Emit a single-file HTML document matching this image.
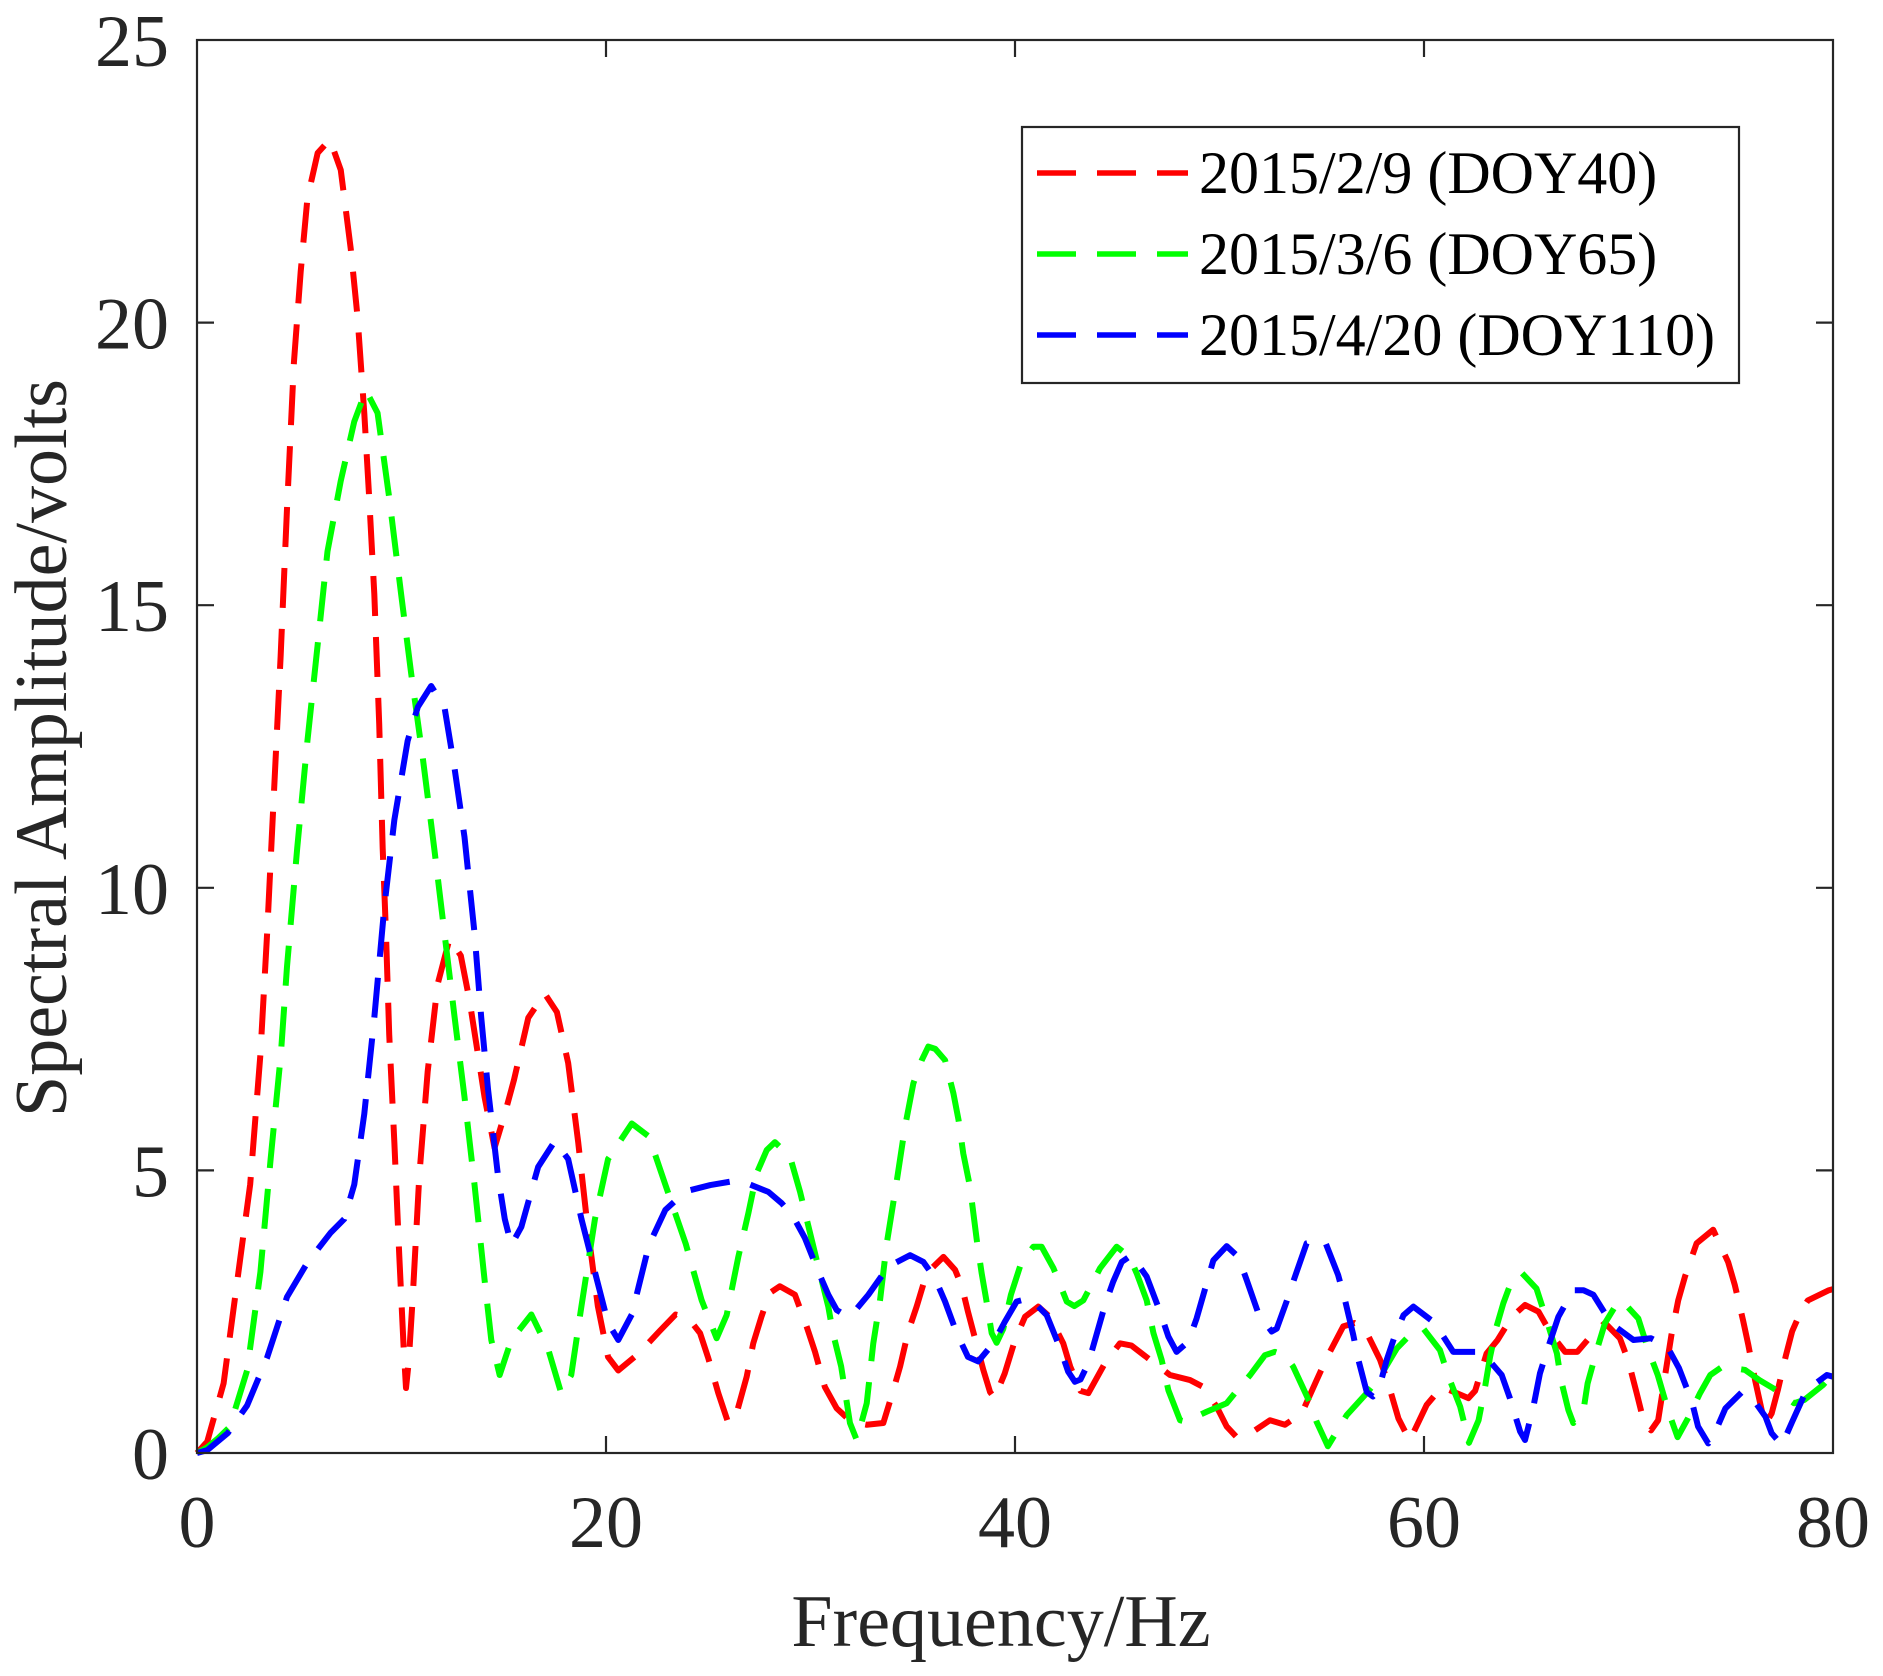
<!DOCTYPE html>
<html>
<head>
<meta charset="utf-8">
<style>
html,body{margin:0;padding:0;background:#fff;}
svg{display:block;}
text{font-family:"Liberation Serif","Times New Roman",serif;}
</style>
</head>
<body>
<svg width="1883" height="1676" viewBox="0 0 1883 1676" xmlns="http://www.w3.org/2000/svg">
<rect x="0" y="0" width="1883" height="1676" fill="#fff"/>

<g transform="translate(197,1453) scale(20.45,-56.52)" fill="none" stroke-width="6" stroke-dasharray="40 21" stroke-linejoin="round">
<polyline vector-effect="non-scaling-stroke" stroke="#ff0000" points="0,0 0.5,0.2 1.3,1.23 2.1,3.4 2.6,4.75 3.1,7.05 3.43,9.2 3.76,11.66 4.09,14.1 4.4,16.7 4.74,19.3 5.07,20.9 5.4,22.2 5.9,23.0 6.5,23.24 7.03,22.7 7.52,21.3 7.85,20.1 8.18,18.4 8.42,16.9 8.67,15.2 8.91,12.9 9.08,10.7 9.24,9.2 9.4,7.4 9.65,5.5 9.89,3.5 10.1,1.9 10.22,1.15 10.35,1.6 10.55,2.76 10.87,4.9 11.28,6.75 11.77,8.3 12.35,9.1 12.9,8.8 13.33,8.0 13.74,7.05 14.06,6.3 14.55,5.4 15.05,6.0 15.5,6.6 16.2,7.7 17.0,8.13 17.6,7.8 18.15,6.9 18.64,5.5 19.1,4.0 19.6,2.6 20.1,1.7 20.6,1.46 21.6,1.76 22.6,2.15 23.4,2.45 24.0,2.4 24.6,2.12 25.0,1.68 25.49,1.06 25.98,0.53 26.39,0.71 26.88,1.35 27.2,1.94 27.6,2.41 28.0,2.83 28.5,2.95 29.24,2.8 29.81,2.24 30.22,1.79 30.7,1.17 31.28,0.79 32.0,0.55 32.75,0.5 33.56,0.53 34.05,1.11 34.38,1.53 34.78,2.15 35.19,2.59 35.68,3.18 36.5,3.47 37.07,3.24 37.4,2.95 37.7,2.5 38.13,1.91 38.45,1.47 38.78,1.08 39.0,0.97 39.5,1.41 40.0,2.0 40.49,2.41 41.14,2.59 41.7,2.41 42.36,1.94 42.7,1.53 43.2,1.1 43.59,1.06 44.4,1.59 45.13,1.94 45.7,1.9 46.6,1.65 47.58,1.38 48.56,1.29 49.2,1.17 49.86,0.82 50.35,0.47 50.84,0.28 51.65,0.38 52.47,0.58 53.2,0.5 54.02,0.7 54.75,1.29 55.24,1.68 56.05,2.24 56.6,2.3 57.1,2.2 57.85,1.65 58.25,1.23 58.75,0.61 59.3,0.22 60.13,0.85 60.87,1.17 61.6,1.06 62.17,0.97 62.5,1.1 63.06,1.76 63.6,2.0 64.3,2.41 64.94,2.62 65.6,2.5 66.24,2.09 66.9,1.79 67.5,1.79 68.28,2.12 68.85,2.3 69.58,2.03 70.0,1.62 70.4,1.06 70.73,0.58 71.1,0.4 71.45,0.58 71.78,1.35 72.1,2.09 72.43,2.7 72.76,3.12 73.33,3.71 74.14,3.95 74.87,3.38 75.2,2.97 75.6,2.35 75.86,1.91 76.19,1.29 76.67,0.5 77.0,0.7 77.3,1.11 77.7,1.73 78.0,2.15 78.46,2.53 78.77,2.7 79.8,2.88 80,2.9"/>
<polyline vector-effect="non-scaling-stroke" stroke="#00ff00" points="0,0 0.5,0.1 1.0,0.25 1.6,0.46 2.45,1.46 3.1,3.2 3.6,5.2 4.1,7.05 4.4,8.6 4.9,10.7 5.4,12.6 5.9,14.3 6.38,15.95 7.03,17.2 7.69,18.25 8.26,18.8 8.83,18.4 9.4,16.9 9.98,15.2 10.47,13.8 11.04,12.3 11.6,10.7 12.1,9.2 12.6,7.7 13.08,6.3 13.57,4.75 14.06,3.07 14.39,2.0 14.8,1.38 15.37,2.0 16.35,2.45 17.17,1.84 17.8,1.07 18.3,1.38 18.8,2.6 19.46,4.14 20.1,5.2 21.26,5.83 22.1,5.6 22.9,4.75 23.9,3.7 24.68,2.7 25.41,2.03 25.9,2.44 26.47,3.47 26.96,4.24 27.37,4.95 27.86,5.36 28.26,5.5 29.0,5.24 29.49,4.62 29.98,3.89 30.46,3.18 30.87,2.59 31.1,2.12 31.5,1.53 31.93,0.53 32.26,0.23 32.75,0.88 33.07,1.94 33.4,2.7 33.73,3.71 34.2,4.77 34.62,5.77 35.03,6.54 35.44,6.95 35.76,7.19 36.1,7.15 36.58,6.95 36.99,6.36 37.24,5.89 37.47,5.3 37.8,4.71 38.13,3.77 38.37,3.18 38.6,2.7 38.86,2.12 39.1,1.95 39.43,2.2 39.8,2.8 40.3,3.36 40.9,3.65 41.3,3.65 41.88,3.27 42.53,2.68 42.9,2.6 43.34,2.7 44.16,3.27 44.97,3.65 45.6,3.47 45.95,3.18 46.44,2.7 46.77,2.12 47.17,1.65 47.5,1.11 48.07,0.58 48.4,0.55 48.72,0.62 49.37,0.73 50.35,0.88 51.0,1.17 51.5,1.38 52.22,1.73 52.71,1.79 53.2,1.73 53.6,1.53 54.1,1.14 54.43,0.88 54.75,0.55 55.3,0.12 56.22,0.67 57.2,1.06 57.85,1.35 58.67,1.85 59.48,2.15 59.97,2.2 60.78,1.82 61.2,1.35 61.77,0.82 62.2,0.18 62.67,0.58 63.0,1.2 63.23,1.7 63.55,2.24 63.88,2.65 64.3,3.06 64.8,3.18 65.5,2.91 66.0,2.35 66.5,1.76 66.7,1.29 67.06,0.76 67.3,0.53 67.8,0.76 68.0,1.23 68.45,1.82 68.85,2.3 69.34,2.59 69.67,2.7 70.48,2.38 70.97,1.82 71.43,1.38 71.93,0.76 72.4,0.28 72.9,0.61 73.5,1.06 74.0,1.38 74.6,1.53 75.7,1.47 76.4,1.29 77.1,1.14 78.1,0.88 78.6,0.94 79.5,1.2 80,1.4"/>
<polyline vector-effect="non-scaling-stroke" stroke="#0000ff" points="0,0 0.5,0.05 1.5,0.35 2.45,0.84 3.43,1.69 4.4,2.76 5.4,3.37 6.54,3.9 7.2,4.14 7.69,4.75 8.18,6.0 8.67,7.7 9.16,9.66 9.65,11.2 10.3,12.6 10.8,13.2 11.45,13.57 12.1,13.2 12.6,12.1 13.08,10.9 13.57,9.2 13.9,7.7 14.23,6.44 14.72,4.9 15.05,4.14 15.37,3.68 15.86,4.0 16.68,5.06 17.5,5.52 18.15,5.2 18.8,4.14 19.46,3.2 20.1,2.3 20.6,2.0 21.26,2.45 22.1,3.68 22.9,4.3 23.9,4.63 25.1,4.74 26.06,4.8 26.9,4.77 27.94,4.62 28.59,4.42 29.16,4.18 29.73,3.8 30.38,3.21 30.87,2.8 31.28,2.53 31.69,2.44 32.0,2.44 32.83,2.8 33.81,3.3 34.87,3.5 35.52,3.38 36.09,3.09 36.58,2.68 37.15,2.12 37.7,1.7 38.2,1.62 38.94,1.94 39.5,2.32 40.08,2.68 40.73,2.74 41.55,2.44 42.2,1.86 42.6,1.44 42.93,1.26 43.2,1.3 43.59,1.59 44.4,2.62 44.8,3.03 45.22,3.38 45.7,3.5 46.44,3.12 47.09,2.5 47.5,2.06 47.9,1.79 48.48,1.97 48.88,2.38 49.37,3.0 49.7,3.41 50.35,3.66 50.92,3.47 51.33,3.06 51.9,2.47 52.55,2.15 52.8,2.2 53.28,2.68 53.69,3.12 54.26,3.71 54.8,3.76 55.16,3.74 55.8,3.15 56.14,2.7 56.54,2.09 56.79,1.65 57.2,1.08 57.5,1.0 57.77,1.1 58.18,1.65 58.59,2.09 59.0,2.44 59.48,2.59 60.46,2.32 60.95,2.06 61.43,1.79 62.58,1.79 63.23,1.62 63.8,1.38 64.2,0.97 64.7,0.38 64.94,0.23 65.35,0.82 65.67,1.41 66.08,1.88 66.57,2.41 67.3,2.88 67.8,2.88 68.28,2.8 68.85,2.47 69.34,2.24 70.24,2.0 71.1,2.03 71.9,1.88 72.47,1.5 73.1,0.91 73.4,0.47 73.9,0.17 74.25,0.38 74.74,0.79 75.55,1.08 76.0,1.0 76.7,0.64 77.0,0.35 77.5,0.14 78.0,0.55 78.7,1.11 79.7,1.38 80,1.35"/>
</g>

<!-- axes box -->
<rect x="197" y="40" width="1636" height="1413" fill="none" stroke="#262626" stroke-width="2.2"/>
<g stroke="#262626" stroke-width="2.2">
<line x1="606" y1="1453" x2="606" y2="1436"/>
<line x1="1015" y1="1453" x2="1015" y2="1436"/>
<line x1="1424" y1="1453" x2="1424" y2="1436"/>
<line x1="606" y1="40" x2="606" y2="57"/>
<line x1="1015" y1="40" x2="1015" y2="57"/>
<line x1="1424" y1="40" x2="1424" y2="57"/>
<line x1="197" y1="1170.4" x2="214" y2="1170.4"/>
<line x1="197" y1="887.8" x2="214" y2="887.8"/>
<line x1="197" y1="605.2" x2="214" y2="605.2"/>
<line x1="197" y1="322.6" x2="214" y2="322.6"/>
<line x1="1833" y1="1170.4" x2="1816" y2="1170.4"/>
<line x1="1833" y1="887.8" x2="1816" y2="887.8"/>
<line x1="1833" y1="605.2" x2="1816" y2="605.2"/>
<line x1="1833" y1="322.6" x2="1816" y2="322.6"/>
</g>

<!-- y tick labels -->
<g fill="#262626" font-size="74" text-anchor="end">
<text x="169" y="1479">0</text>
<text x="169" y="1196.4">5</text>
<text x="169" y="913.8">10</text>
<text x="169" y="631.2">15</text>
<text x="169" y="348.6">20</text>
<text x="169" y="66">25</text>
</g>
<!-- x tick labels -->
<g fill="#262626" font-size="74" text-anchor="middle">
<text x="197" y="1547">0</text>
<text x="606" y="1547">20</text>
<text x="1015" y="1547">40</text>
<text x="1424" y="1547">60</text>
<text x="1833" y="1547">80</text>
</g>

<!-- axis labels -->
<text x="1001" y="1646" font-size="74" fill="#262626" text-anchor="middle">Frequency/Hz</text>
<text transform="translate(66,748) rotate(-90)" font-size="74" fill="#262626" text-anchor="middle">Spectral Amplitude/volts</text>

<!-- legend -->
<rect x="1022" y="127" width="717" height="256" fill="#fff" stroke="#262626" stroke-width="2.2"/>
<g stroke-width="5.5" stroke-dasharray="39 21">
<line x1="1037" y1="173" x2="1188" y2="173" stroke="#ff0000"/>
<line x1="1037" y1="254" x2="1188" y2="254" stroke="#00ff00"/>
<line x1="1037" y1="335" x2="1188" y2="335" stroke="#0000ff"/>
</g>
<g fill="#000" font-size="60">
<text x="1199" y="193">2015/2/9 (DOY40)</text>
<text x="1199" y="274">2015/3/6 (DOY65)</text>
<text x="1199" y="355">2015/4/20 (DOY110)</text>
</g>
</svg>
</body>
</html>
